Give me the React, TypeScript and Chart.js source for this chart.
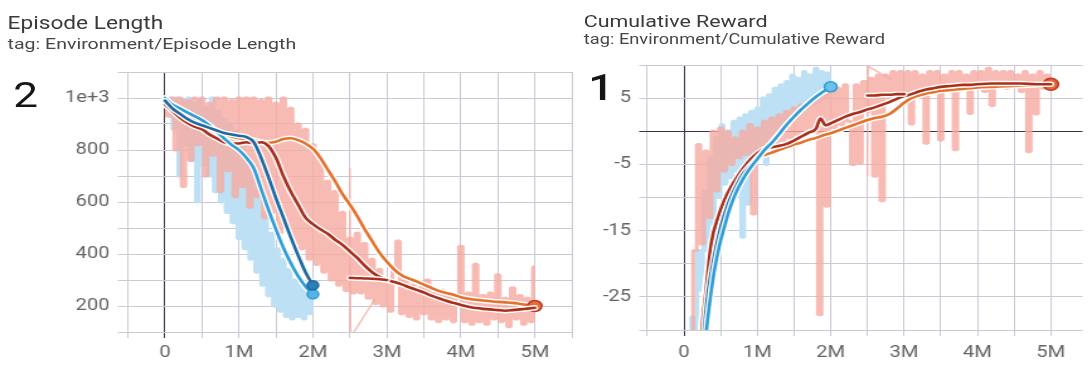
import React, { useEffect, useRef } from "react";
import { Chart, registerables } from "chart.js";

Chart.register(...registerables);

const PAGE_W = 1092;
const LOGICAL_W = 867;
const STRETCH = PAGE_W / LOGICAL_W;
const FONT = "Roboto, 'Noto Sans', sans-serif";

// ---------------- shared x axis ----------------
const xTicks = [-0.5, 0, 0.5, 1, 1.5, 2, 2.5, 3, 3.5, 4, 4.5, 5, 5.5];
const xTickLabels = ["", "0", "", "1M", "", "2M", "", "3M", "", "4M", "", "5M", ""];

// ---------------- Episode Length ----------------
const lenYTicks = [100, 200, 300, 400, 500, 600, 700, 800, 900, 1000, 1100];
const lenYLabels = ["", "200", "", "400", "", "600", "", "800", "", "1e+3", ""];

const lenBlueRawStart = 0;
const lenBlueRawStep = 0.04;
const lenBlueRaw = [
  1000, 960, 1000, 880, 1000, 700, 990, 820, 1000, 760,
  980, 600, 990, 740, 960, 700, 1000, 640, 950, 600,
  920, 560, 900, 520, 870, 460, 840, 420, 780, 380,
  720, 330, 650, 280, 560, 240, 480, 200, 420, 180,
  380, 160, 340, 150, 300, 160, 280, 150, 260, 170,
  240,
];

const lenPinkRawStart = 0;
const lenPinkRawStep = 0.05;
const lenPinkRaw = [
  1000, 930, 1000, 800, 1000, 660, 990, 760, 1000, 820,
  1000, 700, 980, 780, 1000, 640, 1000, 720, 990, 620,
  1000, 660, 1000, 580, 1000, 620, 990, 540, 1000, 560,
  980, 480, 1000, 500, 960, 440, 900, 420, 880, 380,
  820, 360, 760, 330, 680, 300, 640, 280, 560, 260,
  460, 250, 480, 250, 440, 230, 380, 210, 340, 200,
  300, 180, 340, 450, 170, 300, 160, 280, 150, 270,
  170, 300, 150, 250, 140, 260, 150, 240, 140, 230,
  430, 140, 250, 130, 360, 140, 240, 130, 250, 150,
  320, 140, 230, 120, 270, 150, 240, 130, 230, 140,
  350,
];

const lenResumeRawSteps = [2.5, 2.51, 2.84];
const lenResumeRaw = [730, 80, 227];

const lenShortSteps = [0, 0.1, 0.2, 0.3, 0.4, 0.5, 0.6, 0.7, 0.8, 0.9, 1.0, 1.1, 1.2, 1.3, 1.4, 1.5, 1.6, 1.7, 1.8, 1.9, 2.0];
const lenBlueLight = [1000, 975, 960, 945, 930, 915, 895, 870, 845, 820, 800, 770, 730, 650, 570, 495, 425, 365, 315, 275, 245];
const lenBlueDark = [990, 960, 940, 920, 905, 895, 885, 875, 865, 860, 855, 850, 830, 770, 695, 615, 540, 465, 395, 330, 280];

const lenLongSteps = [
  0, 0.1, 0.2, 0.3, 0.4, 0.5, 0.6, 0.7, 0.8, 0.9,
  1.0, 1.1, 1.2, 1.3, 1.4, 1.5, 1.6, 1.7, 1.8, 1.9,
  2.0, 2.1, 2.2, 2.3, 2.4, 2.5, 2.6, 2.7, 2.8, 2.9,
  3.0, 3.1, 3.2, 3.3, 3.4, 3.5, 3.6, 3.7, 3.8, 3.9,
  4.0, 4.1, 4.2, 4.3, 4.4, 4.5, 4.6, 4.7, 4.8, 4.9,
  5.0,
];
const lenBrown = [
  975, 950, 925, 905, 890, 880, 860, 845, 830, 825,
  825, 830, 825, 830, 815, 770, 700, 640, 590, 540,
  515, 495, 478, 455, 435, 410, 385, 355, 330, 312,
  300, 292, 283, 272, 262, 252, 240, 230, 220, 212,
  204, 197, 192, 189, 187, 184, 182, 184, 187, 190,
  193,
];
const lenOrange = [
  985, 975, 960, 940, 920, 905, 890, 875, 862, 852,
  845, 842, 838, 830, 828, 832, 842, 845, 838, 825,
  805, 770, 725, 680, 630, 590, 545, 495, 450, 405,
  370, 340, 318, 305, 295, 282, 270, 258, 250, 243,
  234, 228, 224, 221, 218, 216, 214, 212, 208, 204,
  200,
];
const lenResumeSteps = [2.5, 2.6, 2.7, 2.8, 2.9, 3.0];
const lenResume = [308, 307, 306, 305, 303, 300];

// ---------------- Cumulative Reward ----------------
const rewYTicks = [-30, -25, -20, -15, -10, -5, 0, 5, 10];
const rewYLabels = ["", "-25", "", "-15", "", "-5", "", "5", ""];

const rewBlueRawStart = 0.08;
const rewBlueRawStep = 0.04;
const rewBlueRaw = [
  -40, -28, -30, -18, -24, -9, -18, -4, -14, -1,
  -10, 1, -8, 0, -7, 1.5, -6, 2, -16, 2.5,
  -11, 3, -4, 3.5, -3, 5, -5, 5.5, -1, 6.5,
  0, 7, 1, 7.5, 1.5, 8.5, 2, 8, 3, 9,
  3.5, 8.5, 4, 9.5, 4.5, 9, 5, 8.8, 6,
];

const rewPinkRawStart = 0.1;
const rewPinkRawStep = 0.05;
const rewPinkRaw = [
  -35, -18, -2, -17, -3, -13, 0, -9, 0.5, -6,
  0, -5, -1, -4, 0, -3.5, 1, -12.5, 0.5, -3,
  1.5, -2.5, 2, -2, 2.5, -1.5, 3, -1, 3.5, -0.5,
  4, 0, 4.5, 0.5, 5, -27.7, 5.5, -11.3, 6, 0.5,
  6.5, 1, 7, 1.5, -5, 7, -4.8, 7.5, 3, 8,
  -6.8, 8.5, -10.5, 8.5, 5, 9, 5.5, 9, 6, 9,
  1.1, 9, 6, 8.5, -1.8, 9, 6.5, 9, -1.3, 8.5,
  6.5, 9, -2.8, 9, 6.5, 8.5, 2.7, 9, 7, 9,
  6, 9.5, 3.9, 9, 7, 9, 6.5, 9, 7, 8.5,
  6, 9, -3.1, 8.5, 2.6, 9, 6.5, 8.5, 7,
];

const rewResumeRawSteps = [2.5, 2.51, 2.83];
const rewResumeRaw = [-6.8, 9.8, 7.8];

const rewBlueLightSteps = [0.2, 0.3, 0.35, 0.4, 0.45, 0.5, 0.55, 0.6, 0.7, 0.8, 0.9, 1.0, 1.1, 1.2, 1.3, 1.4, 1.5, 1.6, 1.7, 1.8, 1.9, 2.0];
const rewBlueLight = [-50, -31, -26, -22, -19, -16.5, -14.5, -12.5, -9.5, -7.3, -5.6, -4.2, -2.8, -1.7, -0.4, 1.0, 2.2, 3.3, 4.3, 5.2, 6.0, 6.7];

const rewBlueDarkSteps = [0.18, 0.27, 0.32, 0.4, 0.5, 0.6, 0.7, 0.8, 0.9, 1.0, 1.1, 1.2, 1.3, 1.4, 1.5, 1.6, 1.7, 1.8, 1.9, 2.0];
const rewBlueDark = [-50, -31, -25, -19.5, -14.5, -11, -8.5, -6.5, -5.2, -4.0, -2.8, -1.6, -0.3, 1.0, 2.2, 3.3, 4.3, 5.2, 6.0, 6.6];

const rewBrownSteps = [
  0.15, 0.24, 0.3, 0.37, 0.47, 0.55, 0.64, 0.73, 0.82, 0.91,
  1.0, 1.1, 1.2, 1.3, 1.4, 1.5, 1.6, 1.7, 1.8, 1.86, 1.93,
  2.0, 2.1, 2.2, 2.3, 2.4, 2.5, 2.6, 2.7, 2.8, 2.9,
  3.0, 3.1, 3.2, 3.3, 3.4, 3.5, 3.6, 3.7, 3.8, 3.9,
  4.0, 4.2, 4.4, 4.6, 4.8, 5.0,
];
const rewBrown = [
  -50, -30.5, -24, -17, -12.8, -10.4, -8.4, -6.8, -5.4, -4.2,
  -3.3, -2.6, -2.4, -2.2, -1.9, -1.4, -0.8, -0.2, 0.4, 1.9, 0.9,
  1.2, 1.7, 2.2, 2.6, 2.9, 3.3, 3.6, 4.0, 4.4, 4.9,
  5.3, 5.6, 6.0, 6.3, 6.5, 6.7, 6.8, 6.9, 7.0, 7.0,
  7.1, 7.2, 7.2, 7.2, 7.1, 7.1,
];

const rewOrangeSteps = [
  0.14, 0.23, 0.3, 0.37, 0.47, 0.55, 0.64, 0.73, 0.82, 0.91,
  1.0, 1.1, 1.2, 1.3, 1.4, 1.5, 1.6, 1.7, 1.8, 1.9,
  2.0, 2.1, 2.2, 2.3, 2.4, 2.5, 2.6, 2.7, 2.8, 2.9,
  3.0, 3.1, 3.2, 3.3, 3.4, 3.5, 3.6, 3.7, 3.8, 3.9,
  4.0, 4.2, 4.4, 4.6, 4.8, 5.0,
];
const rewOrange = [
  -50, -30.5, -23, -17.5, -13, -10.6, -8.6, -7.0, -5.6, -4.6,
  -3.9, -3.6, -3.2, -2.8, -2.4, -2.0, -1.7, -1.3, -1.0, -0.6,
  -0.3, 0.1, 0.5, 0.9, 1.3, 1.7, 2.0, 2.2, 2.6, 3.4,
  4.3, 5.0, 5.4, 5.7, 5.9, 6.1, 6.2, 6.3, 6.4, 6.5,
  6.6, 6.7, 6.8, 6.9, 7.0, 7.1,
];
const rewResumeSteps = [2.5, 2.6, 2.7, 2.8, 2.9, 3.0];
const rewResume = [5.4, 5.4, 5.5, 5.5, 5.6, 5.6];

// ---------------- styling ----------------
const COL = {
  blueRaw: "#bde0f5",
  pinkRaw: "rgba(246, 170, 160, 0.8)",
  blueDark: "#1d6aa2",
  blueLight: "#2f9dd8",
  brown: "#a8311d",
  orange: "#e3722d",
  grid: "#ccc8d6",
  zero: "#3e3346",
  tick: "#646464",
  title: "#3a3a3a",
  tag: "#474747",
};

type Pt = { x: number; y: number };
const uniform = (start: number, step: number, vals: number[]): Pt[] =>
  vals.map((y, i) => ({ x: Math.round((start + i * step) * 1000) / 1000, y }));
const paired = (xs: number[], ys: number[]): Pt[] => xs.map((x, i) => ({ x, y: ys[i] }));

const rawDs = (data: Pt[], color: string, order: number, stepped: any = "middle", width = 3.1) => ({
  data,
  borderColor: color,
  borderWidth: width,
  pointRadius: 0,
  fill: false,
  tension: 0,
  stepped,
  borderJoinStyle: "bevel",
  order,
});

type Dot = { r: number; fill: string; border: string };
const smoothDs = (data: Pt[], color: string, order: number, dot?: Dot) => {
  const last = data.length - 1;
  return [
    {
      data,
      borderColor: "rgba(255,255,255,0.95)",
      borderWidth: 5.5,
      pointRadius: 0,
      fill: false,
      cubicInterpolationMode: "monotone",
      borderJoinStyle: "round",
      borderCapStyle: "round",
      order: order + 0.5,
    },
    {
      data,
      borderColor: color,
      borderWidth: 2.6,
      pointRadius: (c: any) => (dot && c.dataIndex === last ? dot.r : 0),
      pointBackgroundColor: dot ? dot.fill : color,
      pointBorderColor: dot ? dot.border : color,
      pointBorderWidth: 1.5,
      fill: false,
      cubicInterpolationMode: "monotone",
      borderJoinStyle: "round",
      borderCapStyle: "round",
      order,
    },
  ];
};

type AxisOpts = {
  padding: { left: number; right: number; top: number; bottom: number };
  yWidth: number;
  xHeight: number;
  xMax: number;
  yMin: number;
  yMax: number;
  yTicks: number[];
  yLabels: string[];
  yTickLen: number;
  yPad: number;
  xPad: number;
};

const gridColor = (ctx: any) => (ctx.tick && ctx.tick.value === 0 ? COL.zero : COL.grid);

const buildConfig = (o: AxisOpts, datasets: any[]): any => ({
  type: "line",
  data: { datasets },
  options: {
    responsive: false,
    maintainAspectRatio: false,
    animation: false,
    devicePixelRatio: 1,
    events: [],
    layout: { padding: o.padding },
    plugins: { legend: { display: false }, tooltip: { enabled: false }, title: { display: false } },
    scales: {
      x: {
        type: "linear",
        min: -0.5,
        max: o.xMax,
        afterBuildTicks: (s: any) => {
          s.ticks = xTicks.filter((v) => v <= o.xMax + 1e-6).map((value) => ({ value }));
        },
        afterFit: (s: any) => {
          s.height = o.xHeight;
        },
        ticks: {
          autoSkip: false,
          maxRotation: 0,
          minRotation: 0,
          padding: o.xPad,
          color: COL.tick,
          font: { family: FONT, size: 16 },
          callback: (_v: any, i: number) => xTickLabels[i] ?? "",
        },
        grid: { color: gridColor, lineWidth: 1, tickLength: 6 },
        border: { display: false },
      },
      y: {
        type: "linear",
        min: o.yMin,
        max: o.yMax,
        afterBuildTicks: (s: any) => {
          s.ticks = o.yTicks.map((value) => ({ value }));
        },
        afterFit: (s: any) => {
          s.width = o.yWidth;
        },
        ticks: {
          autoSkip: false,
          padding: o.yPad,
          color: COL.tick,
          font: { family: FONT, size: 16 },
          callback: (_v: any, i: number) => o.yLabels[i] ?? "",
        },
        grid: { color: gridColor, lineWidth: 1, tickLength: o.yTickLen },
        border: { display: false },
      },
    },
  },
});

const lengthConfig = () =>
  buildConfig(
    {
      padding: { left: 0, right: 8, top: 72, bottom: 0 },
      yWidth: 101.6,
      xHeight: 33,
      xMax: 5.5,
      yMin: 100,
      yMax: 1100,
      yTicks: lenYTicks,
      yLabels: lenYLabels,
      yTickLen: 8,
      yPad: 6.5,
      xPad: 5,
    },
    [
      rawDs(uniform(lenBlueRawStart, lenBlueRawStep, lenBlueRaw), COL.blueRaw, 100),
      rawDs(uniform(lenPinkRawStart, lenPinkRawStep, lenPinkRaw), COL.pinkRaw, 90),
      rawDs(paired(lenResumeRawSteps, lenResumeRaw), COL.pinkRaw, 89, false, 1.4),
      ...smoothDs(paired(lenLongSteps, lenOrange), COL.orange, 10, { r: 5.5, fill: "#ea6b3b", border: "#b8391f" }),
      ...smoothDs(paired(lenLongSteps, lenBrown), COL.brown, 8),
      ...smoothDs(paired(lenResumeSteps, lenResume), COL.brown, 7),
      ...smoothDs(paired(lenShortSteps, lenBlueLight), COL.blueLight, 6, { r: 4.5, fill: "#58b2e3", border: COL.blueLight }),
      ...smoothDs(paired(lenShortSteps, lenBlueDark), COL.blueDark, 4, { r: 4.5, fill: "#2a7fb8", border: COL.blueDark }),
    ]
  );

const rewardConfig = () =>
  buildConfig(
    {
      padding: { left: 0, right: 0, top: 65, bottom: 0 },
      yWidth: 51.9,
      xHeight: 35,
      xMax: 5.432,
      yMin: -30,
      yMax: 10,
      yTicks: rewYTicks,
      yLabels: rewYLabels,
      yTickLen: 6.4,
      yPad: 6.4,
      xPad: 7,
    },
    [
      rawDs(uniform(rewBlueRawStart, rewBlueRawStep, rewBlueRaw), COL.blueRaw, 100),
      rawDs(uniform(rewPinkRawStart, rewPinkRawStep, rewPinkRaw), COL.pinkRaw, 90),
      rawDs(paired(rewResumeRawSteps, rewResumeRaw), COL.pinkRaw, 89, false, 1.4),
      ...smoothDs(paired(rewOrangeSteps, rewOrange), COL.orange, 10, { r: 6, fill: "#e8663a", border: "#b8391f" }),
      ...smoothDs(paired(rewBrownSteps, rewBrown), COL.brown, 8),
      ...smoothDs(paired(rewResumeSteps, rewResume), COL.brown, 7),
      ...smoothDs(paired(rewBlueDarkSteps, rewBlueDark), COL.blueDark, 6),
      ...smoothDs(paired(rewBlueLightSteps, rewBlueLight), COL.blueLight, 4, { r: 5, fill: "#6cc0ec", border: COL.blueLight }),
    ]
  );

const ChartCanvas = ({ left, width, height, make }: { left: number; width: number; height: number; make: () => any }) => {
  const ref = useRef<HTMLCanvasElement | null>(null);
  useEffect(() => {
    if (!ref.current) return;
    const chart = new Chart(ref.current, make());
    return () => chart.destroy();
  }, []);
  return (
    <canvas
      ref={ref}
      width={width}
      height={height}
      style={{ position: "absolute", left, top: 0, width, height }}
    />
  );
};

const text = (left: number, top: number, size: number, color: string, weight = 400): React.CSSProperties => ({
  position: "absolute",
  left,
  top,
  fontSize: size,
  lineHeight: 1,
  color,
  fontWeight: weight,
  whiteSpace: "nowrap",
  fontFamily: FONT,
});

export default function App() {
  return (
    <div
      style={{
        position: "absolute",
        left: 0,
        top: 0,
        width: LOGICAL_W,
        height: 365,
        overflow: "hidden",
        background: "#ffffff",
        transform: `scaleX(${STRETCH})`,
        transformOrigin: "0 0",
      }}
    >
      <ChartCanvas left={0} width={462} height={365} make={lengthConfig} />
      <ChartCanvas left={462} width={405} height={365} make={rewardConfig} />
      <div style={text(6, 14, 18, COL.title)}>Episode Length</div>
      <div style={text(6, 37, 15.5, COL.tag)}>tag: Environment/Episode Length</div>
      <div style={text(463.5, 12.5, 17, COL.title)}>Cumulative Reward</div>
      <div style={text(463.5, 33, 14.5, COL.tag)}>tag: Environment/Cumulative Reward</div>
      <div style={text(10.5, 77.5, 35, "#151515")}>2</div>
      <div style={text(467, 70, 36, "#151515", 500)}>1</div>
    </div>
  );
}
